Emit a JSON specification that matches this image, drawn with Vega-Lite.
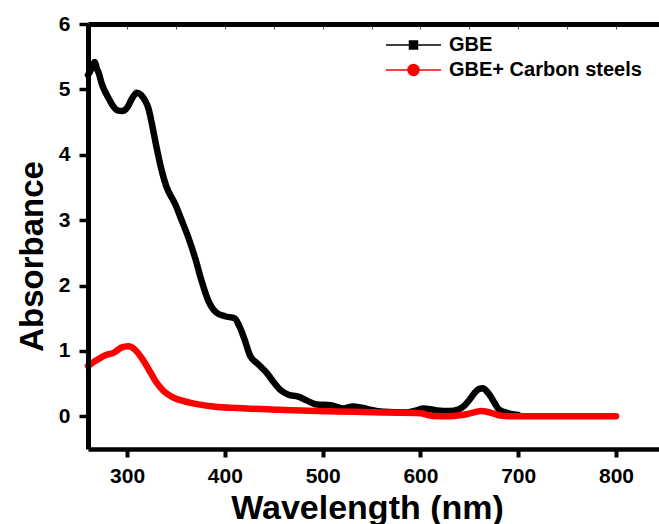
{
  "$schema": "https://vega.github.io/schema/vega-lite/v6.json",
  "width": 571,
  "height": 425,
  "autosize": "none",
  "padding": {"left": 88, "top": 24, "right": 0, "bottom": 75},
  "background": "white",
  "config": {
    "view": {"stroke": null},
    "font": "Liberation Sans",
    "axis": {"grid": false, "domainColor": "black", "tickColor": "black", "labelColor": "black", "titleColor": "black", "labelFont": "Liberation Sans", "titleFont": "Liberation Sans", "labelFontWeight": "bold", "titleFontWeight": "bold"}
  },
  "data": {
    "values": [
      {"series": "GBE", "wl": 260, "abs": 5.22},
      {"series": "GBE", "wl": 263, "abs": 5.30},
      {"series": "GBE", "wl": 265, "abs": 5.38},
      {"series": "GBE", "wl": 267, "abs": 5.42},
      {"series": "GBE", "wl": 269, "abs": 5.32},
      {"series": "GBE", "wl": 271, "abs": 5.25},
      {"series": "GBE", "wl": 274, "abs": 5.09},
      {"series": "GBE", "wl": 277, "abs": 4.98},
      {"series": "GBE", "wl": 280.5, "abs": 4.88},
      {"series": "GBE", "wl": 285, "abs": 4.76},
      {"series": "GBE", "wl": 290, "abs": 4.68},
      {"series": "GBE", "wl": 295, "abs": 4.67},
      {"series": "GBE", "wl": 300, "abs": 4.72},
      {"series": "GBE", "wl": 305, "abs": 4.86},
      {"series": "GBE", "wl": 310, "abs": 4.95},
      {"series": "GBE", "wl": 314, "abs": 4.92},
      {"series": "GBE", "wl": 318, "abs": 4.84},
      {"series": "GBE", "wl": 322, "abs": 4.70},
      {"series": "GBE", "wl": 325, "abs": 4.50},
      {"series": "GBE", "wl": 330, "abs": 4.12},
      {"series": "GBE", "wl": 335, "abs": 3.78},
      {"series": "GBE", "wl": 340, "abs": 3.52},
      {"series": "GBE", "wl": 349, "abs": 3.25},
      {"series": "GBE", "wl": 356, "abs": 2.99},
      {"series": "GBE", "wl": 363, "abs": 2.72},
      {"series": "GBE", "wl": 370, "abs": 2.40},
      {"series": "GBE", "wl": 376, "abs": 2.08},
      {"series": "GBE", "wl": 383, "abs": 1.77},
      {"series": "GBE", "wl": 391, "abs": 1.59},
      {"series": "GBE", "wl": 400, "abs": 1.53},
      {"series": "GBE", "wl": 410, "abs": 1.50},
      {"series": "GBE", "wl": 415, "abs": 1.37},
      {"series": "GBE", "wl": 420, "abs": 1.18},
      {"series": "GBE", "wl": 426, "abs": 0.92},
      {"series": "GBE", "wl": 433, "abs": 0.81},
      {"series": "GBE", "wl": 443, "abs": 0.66},
      {"series": "GBE", "wl": 450, "abs": 0.52},
      {"series": "GBE", "wl": 457, "abs": 0.40},
      {"series": "GBE", "wl": 465, "abs": 0.33},
      {"series": "GBE", "wl": 475, "abs": 0.30},
      {"series": "GBE", "wl": 480, "abs": 0.27},
      {"series": "GBE", "wl": 488, "abs": 0.21},
      {"series": "GBE", "wl": 494, "abs": 0.18},
      {"series": "GBE", "wl": 508, "abs": 0.17},
      {"series": "GBE", "wl": 521, "abs": 0.12},
      {"series": "GBE", "wl": 531, "abs": 0.15},
      {"series": "GBE", "wl": 540, "abs": 0.13},
      {"series": "GBE", "wl": 546, "abs": 0.11},
      {"series": "GBE", "wl": 562, "abs": 0.07},
      {"series": "GBE", "wl": 586, "abs": 0.06},
      {"series": "GBE", "wl": 596, "abs": 0.09},
      {"series": "GBE", "wl": 603, "abs": 0.12},
      {"series": "GBE", "wl": 610, "abs": 0.11},
      {"series": "GBE", "wl": 617, "abs": 0.09},
      {"series": "GBE", "wl": 630, "abs": 0.08},
      {"series": "GBE", "wl": 638, "abs": 0.10},
      {"series": "GBE", "wl": 644, "abs": 0.15},
      {"series": "GBE", "wl": 650, "abs": 0.25},
      {"series": "GBE", "wl": 655, "abs": 0.35},
      {"series": "GBE", "wl": 660, "abs": 0.42},
      {"series": "GBE", "wl": 664, "abs": 0.43},
      {"series": "GBE", "wl": 668, "abs": 0.38},
      {"series": "GBE", "wl": 672, "abs": 0.30},
      {"series": "GBE", "wl": 676, "abs": 0.20},
      {"series": "GBE", "wl": 680, "abs": 0.11},
      {"series": "GBE", "wl": 689, "abs": 0.05},
      {"series": "GBE", "wl": 700, "abs": 0.02},
      {"series": "GBE+ Carbon steels", "wl": 260, "abs": 0.77},
      {"series": "GBE+ Carbon steels", "wl": 269, "abs": 0.86},
      {"series": "GBE+ Carbon steels", "wl": 279, "abs": 0.94},
      {"series": "GBE+ Carbon steels", "wl": 286, "abs": 0.97},
      {"series": "GBE+ Carbon steels", "wl": 294, "abs": 1.05},
      {"series": "GBE+ Carbon steels", "wl": 301, "abs": 1.07},
      {"series": "GBE+ Carbon steels", "wl": 308, "abs": 1.02},
      {"series": "GBE+ Carbon steels", "wl": 315, "abs": 0.89},
      {"series": "GBE+ Carbon steels", "wl": 322, "abs": 0.72},
      {"series": "GBE+ Carbon steels", "wl": 329, "abs": 0.54},
      {"series": "GBE+ Carbon steels", "wl": 337, "abs": 0.39},
      {"series": "GBE+ Carbon steels", "wl": 347, "abs": 0.29},
      {"series": "GBE+ Carbon steels", "wl": 364, "abs": 0.21},
      {"series": "GBE+ Carbon steels", "wl": 388, "abs": 0.15},
      {"series": "GBE+ Carbon steels", "wl": 422, "abs": 0.12},
      {"series": "GBE+ Carbon steels", "wl": 456, "abs": 0.10},
      {"series": "GBE+ Carbon steels", "wl": 494, "abs": 0.08},
      {"series": "GBE+ Carbon steels", "wl": 530, "abs": 0.07},
      {"series": "GBE+ Carbon steels", "wl": 562, "abs": 0.06},
      {"series": "GBE+ Carbon steels", "wl": 600, "abs": 0.045},
      {"series": "GBE+ Carbon steels", "wl": 608, "abs": 0.02},
      {"series": "GBE+ Carbon steels", "wl": 613, "abs": 0.005},
      {"series": "GBE+ Carbon steels", "wl": 630, "abs": 0.0},
      {"series": "GBE+ Carbon steels", "wl": 640, "abs": 0.015},
      {"series": "GBE+ Carbon steels", "wl": 648, "abs": 0.035},
      {"series": "GBE+ Carbon steels", "wl": 655, "abs": 0.06},
      {"series": "GBE+ Carbon steels", "wl": 662, "abs": 0.08},
      {"series": "GBE+ Carbon steels", "wl": 668, "abs": 0.07},
      {"series": "GBE+ Carbon steels", "wl": 675, "abs": 0.04},
      {"series": "GBE+ Carbon steels", "wl": 682, "abs": 0.01},
      {"series": "GBE+ Carbon steels", "wl": 690, "abs": 0.0},
      {"series": "GBE+ Carbon steels", "wl": 720, "abs": 0.0},
      {"series": "GBE+ Carbon steels", "wl": 760, "abs": 0.0},
      {"series": "GBE+ Carbon steels", "wl": 800, "abs": 0.0}
    ]
  },
  "encoding": {
    "y": {"field": "abs", "type": "quantitative", "scale": {"domain": [-0.5, 6], "nice": false, "zero": false},
      "axis": {"values": [0, 1, 2, 3, 4, 5, 6], "title": "Absorbance", "domainWidth": 5, "tickSize": 9, "tickWidth": 3.5, "labelFontSize": 21, "labelPadding": 9, "titleFontSize": 33, "titleX": -46, "titleY": 232, "titleBaseline": "alphabetic", "titleAlign": "center", "titleAngle": -90, "zindex": 1}}
  },
  "resolve": {"axis": {"x": "independent"}},
  "layer": [
    {
      "mark": {"type": "line", "strokeWidth": 6.5, "interpolate": "monotone", "strokeCap": "round", "strokeJoin": "round"},
      "encoding": {
        "x": {"field": "wl", "type": "quantitative", "scale": {"domain": [260, 844], "nice": false, "zero": false},
          "axis": {"orient": "bottom", "values": [300, 400, 500, 600, 700, 800], "title": "Wavelength (nm)", "domainWidth": 4.5, "tickSize": 8, "tickWidth": 4, "labelFontSize": 21, "labelBaseline": "alphabetic", "labelPadding": 25, "titleFontSize": 34, "titleX": 279, "titleY": 69, "titleBaseline": "alphabetic", "titleAlign": "center", "zindex": 1}},
        "color": {"field": "series", "type": "nominal",
          "scale": {"domain": ["GBE", "GBE+ Carbon steels"], "range": ["#000000", "#ff0000"]},
          "legend": {"title": null, "orient": "none", "legendX": 297, "legendY": 8, "padding": 0, "rowPadding": 2,
            "symbolSize": 576, "symbolStrokeWidth": 1.5, "labelFontSize": 20, "labelFontWeight": "bold", "labelFont": "Liberation Sans", "labelColor": "black", "labelOffset": 38, "labelLimit": 400,
            "encode": {"symbols": {"update": {
              "fill": {"signal": "scale('color', datum.value)"},
              "shape": {"signal": "datum.value === 'GBE' ? 'M-1,0H3.583M0.959,-0.333H1.625V0.333H0.959Z' : 'M-1,0H3.583M1.75,0A0.458,0.458 0 1,1 0.834,0A0.458,0.458 0 1,1 1.75,0Z'"}
            }}}}
        }
      }
    },
    {
      "mark": {"type": "line", "opacity": 0},
      "encoding": {
        "x": {"field": "wl", "type": "quantitative",
          "axis": {"orient": "top", "values": [300, 350, 400, 450, 500, 550, 600, 650, 700, 750, 800], "labels": false, "title": null, "domainWidth": 5, "tickSize": -5, "tickWidth": 1, "tickColor": "#555555", "zindex": 1}},
        "detail": {"field": "series"}
      }
    }
  ]
}
